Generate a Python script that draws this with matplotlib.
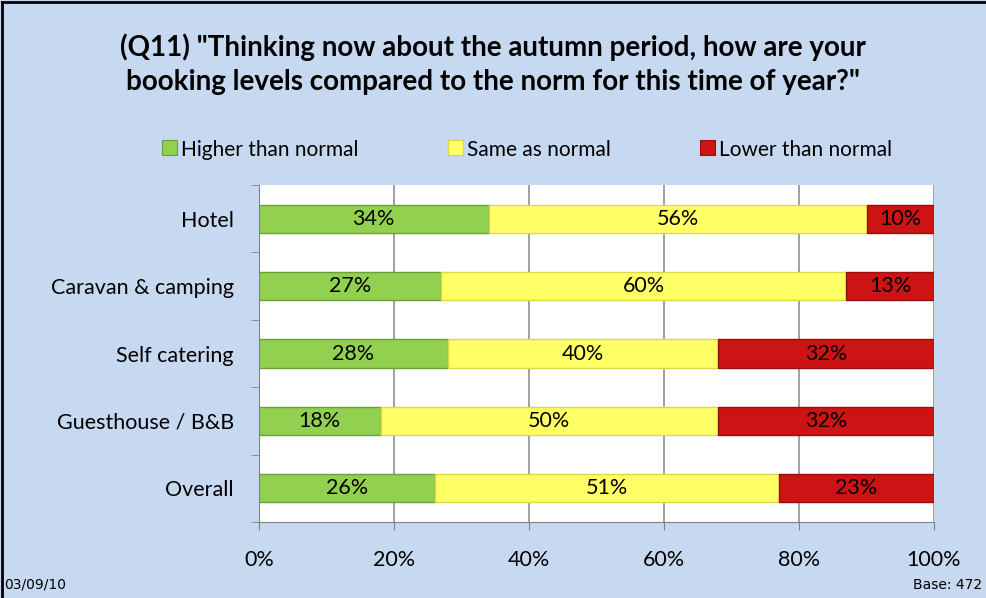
import numpy as np
import matplotlib.pyplot as plt
from matplotlib.patches import Rectangle

plt.rcParams['font.family'] = ['Lato', 'DejaVu Sans']

categories = ['Hotel', 'Caravan & camping', 'Self catering', 'Guesthouse / B&B', 'Overall']
higher = [34, 27, 28, 18, 26]
same = [56, 60, 40, 50, 51]
lower = [10, 13, 32, 32, 23]
series_names = ['Higher than normal', 'Same as normal', 'Lower than normal']
xticks = [0, 20, 40, 60, 80, 100]

colors = ['#92D050', '#FFFF66', '#CC1414']
edges = ['#6E9E3A', '#D8D848', '#9A0E0E']
bg = '#C6D9F1'

fig = plt.figure(figsize=(9.86, 5.98), dpi=100, facecolor=bg)
ax = fig.add_axes([259 / 986, 1 - 522 / 598, 675 / 986, 337 / 598])
ax.set_facecolor('white')

y = np.arange(len(categories))
left = np.zeros(len(categories))
for vals, c, ec, name in zip([higher, same, lower], colors, edges, series_names):
    bars = ax.barh(y, vals, left=left, height=0.42, color=c, edgecolor=ec,
                   linewidth=1, label=name, zorder=3)
    ax.bar_label(bars, labels=[f'{v}%' for v in vals], label_type='center',
                 fontsize=15.5, color='black')
    left += np.array(vals)

ax.set_xlim(0, 100)
ax.set_ylim(len(categories) - 0.5, -0.5)
ax.set_xticks(xticks)
ax.set_xticklabels([f'{t}%' for t in xticks], fontsize=15.5)
ax.tick_params(axis='x', length=6, color='#808080', pad=14)
ax.set_yticks(y)
ax.set_yticklabels(categories, fontsize=15.5)
ax.tick_params(axis='y', length=0, pad=18)
ax.set_yticks(np.arange(-0.5, len(categories), 1), minor=True)
ax.tick_params(axis='y', which='minor', length=6, color='#808080')
ax.grid(axis='x', color='#909090', linewidth=1.2, zorder=0)
for s in ['top', 'right']:
    ax.spines[s].set_visible(False)
for s in ['left', 'bottom']:
    ax.spines[s].set_color('#808080')

fig.text(0.5, 1 - 47 / 598, '(Q11) "Thinking now about the autumn period, how are your',
         ha='center', va='center', fontsize=20, fontweight='bold')
fig.text(0.5, 1 - 82 / 598, 'booking levels compared to the norm for this time of year?"',
         ha='center', va='center', fontsize=20, fontweight='bold')

# legend, placed by hand
leg_x = [162, 448, 700]
for lx, c, ec, name in zip(leg_x, colors, edges, series_names):
    fig.patches.append(Rectangle((lx / 986, 1 - 155 / 598), 15 / 986, 15 / 598,
                                 transform=fig.transFigure, facecolor=c,
                                 edgecolor=ec, linewidth=0.8))
    fig.text((lx + 19) / 986, 1 - 150 / 598, name, ha='left', va='center', fontsize=15)

fig.text(4 / 986, 1 - 585 / 598, '03/09/10', ha='left', va='center', fontsize=10,
         family='Liberation Sans Narrow')
fig.text(982 / 986, 1 - 585 / 598, 'Base: 472', ha='right', va='center', fontsize=10,
         family='Liberation Sans Narrow')

# border of the chart area
fig.add_artist(plt.Line2D([2 / 986, 2 / 986], [0, 1 - 2 / 598], color='black', linewidth=2,
                          transform=fig.transFigure))
fig.add_artist(plt.Line2D([2 / 986, 1], [1 - 2 / 598, 1 - 2 / 598], color='black',
                          linewidth=2, transform=fig.transFigure))

fig.savefig('out.png', dpi=100, facecolor=bg)
